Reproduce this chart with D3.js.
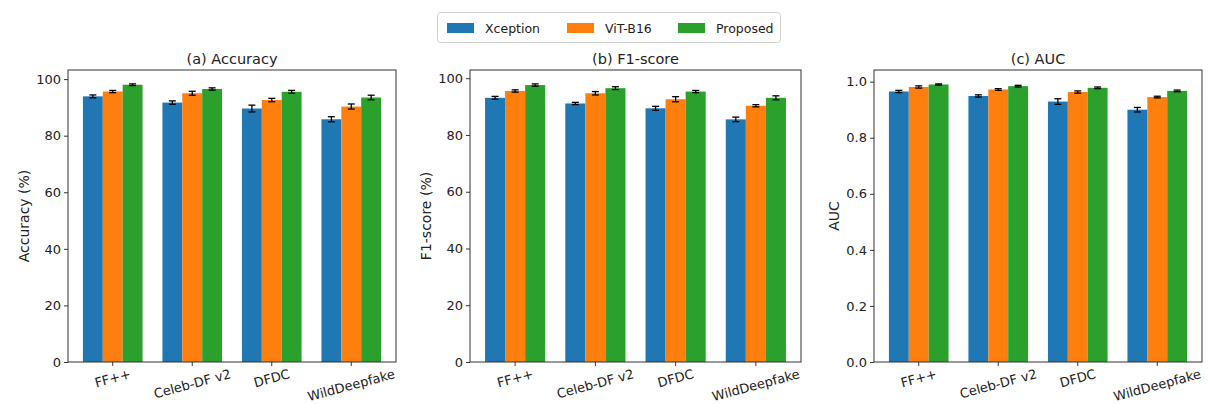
<!DOCTYPE html>
<html>
<head>
<meta charset="utf-8">
<script src="https://cdn.jsdelivr.net/npm/d3@7"></script>
<style>
  html, body { margin: 0; padding: 0; background: #fff; }
  svg { display: block; font-family: "DejaVu Sans", sans-serif; }
</style>
</head>
<body>
<svg id="chart" width="1208" height="404"></svg>
<script>
// Datasets and methods
const datasets = ["FF++", "Celeb-DF v2", "DFDC", "WildDeepfake"];
const methods = ["Xception", "ViT-B16", "Proposed"];
const colors = ["#1f77b4", "#ff7f0e", "#2ca02c"];

// Accuracy (%) per method, one value per dataset
const accXception = [93.9, 91.7, 89.6, 85.8];
const accViT = [95.6, 95.0, 92.6, 90.3];
const accProposed = [98.0, 96.5, 95.5, 93.5];
const accXceptionErr = [0.5, 0.6, 1.2, 0.9];
const accViTErr = [0.4, 0.7, 0.6, 0.9];
const accProposedErr = [0.3, 0.4, 0.5, 0.8];

// F1-score (%)
const f1Xception = [93.1, 91.1, 89.4, 85.5];
const f1ViT = [95.5, 94.7, 92.6, 90.3];
const f1Proposed = [97.6, 96.5, 95.3, 93.1];
const f1XceptionErr = [0.5, 0.4, 0.7, 0.8];
const f1ViTErr = [0.4, 0.6, 0.9, 0.4];
const f1ProposedErr = [0.4, 0.5, 0.4, 0.7];

// AUC
const aucXception = [0.965, 0.949, 0.929, 0.900];
const aucViT = [0.981, 0.972, 0.963, 0.945];
const aucProposed = [0.990, 0.984, 0.978, 0.967];
const aucXceptionErr = [0.004, 0.004, 0.010, 0.008];
const aucViTErr = [0.004, 0.003, 0.004, 0.003];
const aucProposedErr = [0.002, 0.003, 0.003, 0.003];

// Tick labels
const pctTicks = [0, 20, 40, 60, 80, 100];
const aucTicks = [0.0, 0.2, 0.4, 0.6, 0.8, 1.0];

const panels = [
  { title: "(a) Accuracy", ylabel: "Accuracy (%)", ticks: pctTicks, fmt: d3.format("d"),
    values: [accXception, accViT, accProposed], errs: [accXceptionErr, accViTErr, accProposedErr],
    x0: 68, x1: 396, labelOffset: 44 },
  { title: "(b) F1-score", ylabel: "F1-score (%)", ticks: pctTicks, fmt: d3.format("d"),
    values: [f1Xception, f1ViT, f1Proposed], errs: [f1XceptionErr, f1ViTErr, f1ProposedErr],
    x0: 470, x1: 801, labelOffset: 44 },
  { title: "(c) AUC", ylabel: "AUC", ticks: aucTicks, fmt: d3.format(".1f"),
    values: [aucXception, aucViT, aucProposed], errs: [aucXceptionErr, aucViTErr, aucProposedErr],
    x0: 874, x1: 1202, labelOffset: 40 }
];

const svg = d3.select("#chart");
const plotTop = 70, plotBottom = 362;
const axisColor = "#333";

panels.forEach(p => {
  const g = svg.append("g");

  // y range grows 5% beyond the tallest bar plus its error
  let maxTop = 0;
  p.values.forEach((vals, i) => vals.forEach((v, j) => { maxTop = Math.max(maxTop, v + p.errs[i][j]); }));
  const y = d3.scaleLinear().domain([0, maxTop * 1.05]).range([plotBottom, plotTop]);

  const x = d3.scaleBand().domain(datasets).range([p.x0, p.x1])
    .paddingInner(0.25).paddingOuter(0.1875);
  const xs = d3.scaleBand().domain(methods).range([0, x.bandwidth()]).padding(0);

  // bars
  methods.forEach((m, i) => {
    g.append("g").selectAll("rect")
      .data(datasets.map((d, j) => ({ d, v: p.values[i][j], e: p.errs[i][j] })))
      .join("rect")
      .attr("x", d => x(d.d) + xs(m))
      .attr("y", d => y(d.v))
      .attr("width", xs.bandwidth())
      .attr("height", d => y(0) - y(d.v))
      .attr("fill", colors[i]);
  });

  // error bars with caps
  methods.forEach((m, i) => {
    const eg = g.append("g").attr("stroke", "#000").attr("stroke-width", 1.3);
    datasets.forEach((d, j) => {
      const cx = x(d) + xs(m) + xs.bandwidth() / 2;
      const v = p.values[i][j], e = p.errs[i][j];
      eg.append("line").attr("x1", cx).attr("x2", cx).attr("y1", y(v - e)).attr("y2", y(v + e));
      [v - e, v + e].forEach(t => {
        eg.append("line").attr("x1", cx - 3.5).attr("x2", cx + 3.5).attr("y1", y(t)).attr("y2", y(t));
      });
    });
  });

  // y axis
  const ya = g.append("g").attr("transform", `translate(${p.x0},0)`)
    .call(d3.axisLeft(y).tickValues(p.ticks).tickFormat(p.fmt).tickSize(4).tickPadding(3));
  ya.select(".domain").remove();
  ya.selectAll("line").attr("stroke", axisColor);
  ya.selectAll("text").attr("font-size", 13).attr("fill", "#222")
    .attr("font-family", "DejaVu Sans, sans-serif");

  // x axis ticks
  const xa = g.append("g").attr("transform", `translate(0,${plotBottom})`)
    .call(d3.axisBottom(x).tickSize(4).tickFormat(""));
  xa.select(".domain").remove();
  xa.selectAll("line").attr("stroke", axisColor);

  // rotated x tick labels: bounding box centred on the tick, top aligned below it
  const ang = 15 * Math.PI / 180;
  const labelTop = plotBottom + 5;
  datasets.forEach(d => {
    const t = g.append("text")
      .attr("font-size", 13).attr("fill", "#222")
      .attr("text-anchor", "middle").attr("dominant-baseline", "central")
      .text(d);
    const w = t.node().getComputedTextLength();
    const h = 13 * 1.05;
    const bh = w * Math.sin(ang) + h * Math.cos(ang);
    const cx = x(d) + x.bandwidth() / 2, cy = labelTop + bh / 2;
    t.attr("x", cx).attr("y", cy).attr("transform", `rotate(-15,${cx},${cy})`);
  });

  // frame
  g.append("rect").attr("x", p.x0).attr("y", plotTop)
    .attr("width", p.x1 - p.x0).attr("height", plotBottom - plotTop)
    .attr("fill", "none").attr("stroke", axisColor).attr("stroke-width", 1);

  // title
  g.append("text").attr("x", (p.x0 + p.x1) / 2).attr("y", plotTop - 6)
    .attr("text-anchor", "middle").attr("font-size", 14.5).attr("fill", "#222")
    .text(p.title);

  // y label
  const ly = (plotTop + plotBottom) / 2, lx = p.x0 - p.labelOffset;
  g.append("text").attr("x", lx).attr("y", ly)
    .attr("text-anchor", "middle").attr("dominant-baseline", "central")
    .attr("transform", `rotate(-90,${lx},${ly})`)
    .attr("font-size", 14).attr("fill", "#222")
    .text(p.ylabel);
});

// legend
const lg = svg.append("g");
lg.append("rect").attr("x", 437.5).attr("y", 12.5).attr("width", 343).attr("height", 30)
  .attr("rx", 3).attr("fill", "#fff").attr("stroke", "#d0d0d0");
const legendX = [447, 567, 678];
methods.forEach((m, i) => {
  lg.append("rect").attr("x", legendX[i]).attr("y", 23).attr("width", 27).attr("height", 10)
    .attr("fill", colors[i]);
  lg.append("text").attr("x", legendX[i] + 38).attr("y", 28)
    .attr("dominant-baseline", "central").attr("font-size", 12.5).attr("fill", "#222")
    .text(m);
});
</script>
</body>
</html>
